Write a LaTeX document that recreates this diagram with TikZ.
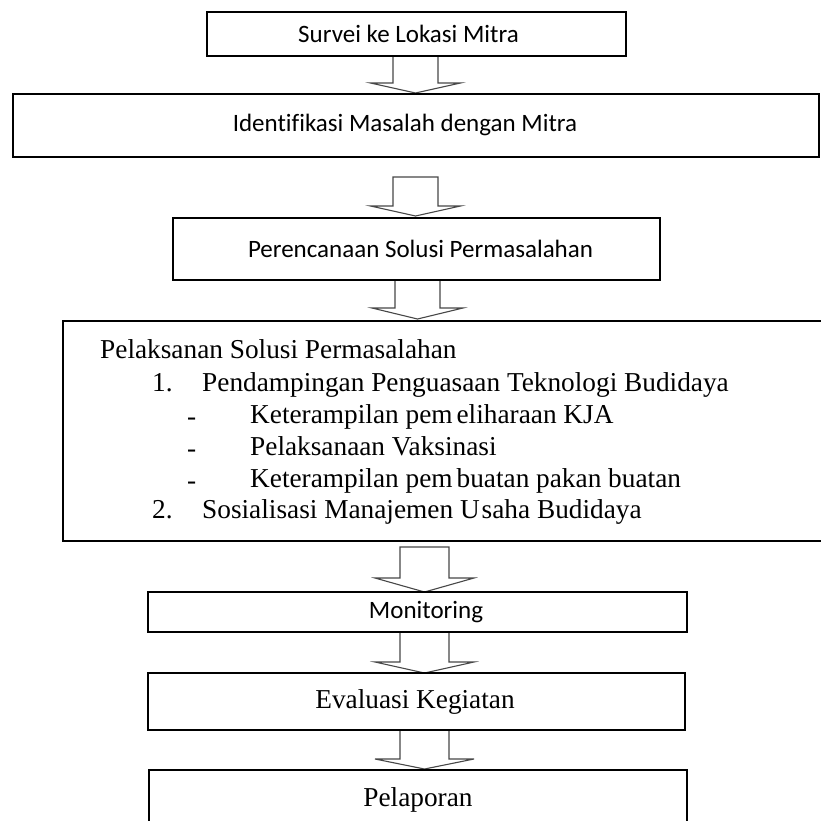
\documentclass[tikz,border=0pt]{standalone}
\usepackage{fontspec}
\setmainfont{Liberation Serif}
\newfontfamily\calibfont[Ligatures=NoCommon]{Carlito}
\usetikzlibrary{calc}
\tikzset{
  box/.style={draw=black, line width=2pt, fill=white, inner sep=0pt},
  sanstext/.style={font=\calibfont\fontsize{25}{30}\selectfont},
  seriftext/.style={font=\fontsize{27.3}{32}\selectfont},
  linetext/.style={seriftext, anchor=base west, inner sep=0pt},
  arrowline/.style={draw=black!72, line width=1.1pt, fill=white, line join=miter},
}
\newcommand\blockarrow[5]{%
  \draw[arrowline] ($(#1)+(-#3,0)$) -- ($(#2)+(-#3,-#5)$) -- ($(#2)+(-#4,-#5)$) -- (#2)
    -- ($(#2)+(#4,-#5)$) -- ($(#2)+(#3,-#5)$) -- ($(#1)+(#3,0)$) -- cycle;}
\begin{document}
\begin{tikzpicture}[x=1pt,y=-1pt]
\useasboundingbox (0,0) rectangle (821,820);
\clip (0,0) rectangle (821,820);
\fill[white] (0,0) rectangle (821,820);

% arrow coordinates
\coordinate (a1top) at (415.5,55);  \coordinate (a1tip) at (415.5,93);
\coordinate (a2top) at (415.5,177); \coordinate (a2tip) at (415.5,216);
\coordinate (a3top) at (417.5,280); \coordinate (a3tip) at (417.5,319);
\coordinate (a4top) at (424.5,547); \coordinate (a4tip) at (424.5,592);
\coordinate (a5top) at (424.5,632); \coordinate (a5tip) at (424.5,673);
\coordinate (a6top) at (424.5,730); \coordinate (a6tip) at (424.5,769);

\blockarrow{a1top}{a1tip}{22.5}{45}{10}
\blockarrow{a2top}{a2tip}{22.5}{45}{10}
\blockarrow{a3top}{a3tip}{22.5}{45.5}{11}
\blockarrow{a4top}{a4tip}{24.5}{49.5}{14}
\blockarrow{a5top}{a5tip}{24.5}{49.5}{11}
\blockarrow{a6top}{a6tip}{24.5}{49.5}{10}

% boxes
\node[box, sanstext, minimum width=419pt, minimum height=44pt] (survei) at (416.5,33.5) {\hspace*{-16pt}Survei ke Lokasi Mitra};
\node[box, sanstext, minimum width=806pt, minimum height=63pt] (ident) at (416,125) {\hspace*{-22pt}Identifikasi Masalah dengan Mitra};
\node[box, sanstext, minimum width=487pt, minimum height=62pt] (perenc) at (416.5,248.5) {\hspace*{8pt}Perencanaan Solusi Permasalahan};
\node[box, minimum width=800pt, minimum height=220pt, anchor=north west] (pelaks) at (62,320) {};
\node[box, sanstext, minimum width=539pt, minimum height=40pt] (monitor) at (417.5,612) {\hspace*{17pt}Monitoring};
\node[box, seriftext, minimum width=537pt, minimum height=57pt] (eval) at (416.5,701.5) {\hspace*{-3pt}Evaluasi Kegiatan};
\node[box, seriftext, minimum width=538pt, minimum height=60pt, anchor=north] (lapor) at (418,769) {Pelaporan};

% text of the implementation box
\node[linetext] (t0) at (100,358) {Pelaksanan Solusi Permasalahan};
\node[linetext] (n1) at (152,391) {1.};
\node[linetext] (t1) at (202,391) {Pendampingan Penguasaan Teknologi Budidaya};
\node[linetext] (d1) at (187,425) {-};
\node[linetext] (t2) at (250,423) {Keterampilan pem\kern4pt eliharaan KJA};
\node[linetext] (d2) at (187,457) {-};
\node[linetext] (t3) at (250,455) {Pelaksanaan Vaksinasi};
\node[linetext] (d3) at (187,489) {-};
\node[linetext] (t4) at (250,487) {Keterampilan pem\kern4pt buatan pakan buatan};
\node[linetext] (n2) at (152,518) {2.};
\node[linetext] (t5) at (202,518) {Sosialisasi Manajemen U\kern2pt saha Budidaya};
\end{tikzpicture}
\end{document}
